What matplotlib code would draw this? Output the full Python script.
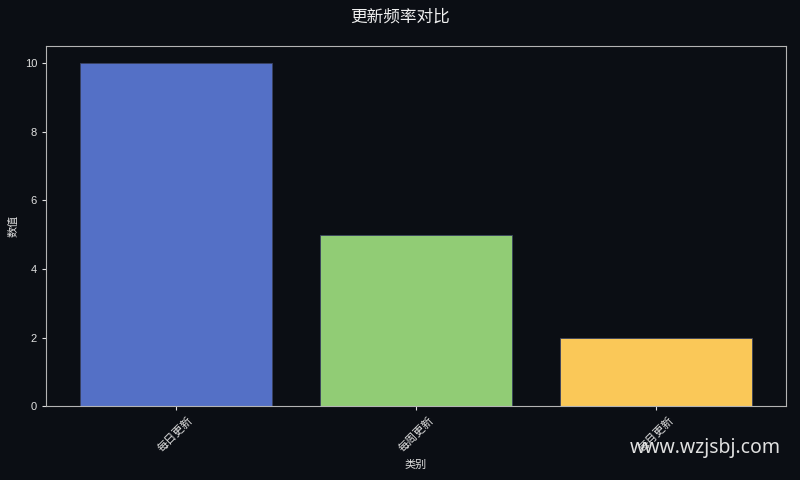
import matplotlib
matplotlib.use("Agg")
import matplotlib.pyplot as plt

plt.rcParams['font.family'] = ['Liberation Sans', 'Noto Sans CJK SC', 'DejaVu Sans']

categories = ["每日更新", "每周更新", "每月更新"]
values = [10, 5, 2]
colors = ["#5470c6", "#91cc75", "#fac858"]

bg = "#0b0e14"
fig = plt.figure(figsize=(8, 4.8), dpi=100, facecolor=bg)
ax = fig.add_axes([0.0575, 0.154, 0.925, 0.75])
ax.set_facecolor(bg)

ax.bar(categories, values, color=colors, width=0.8, edgecolor="#3a4260", linewidth=0.6)

for s in ax.spines.values():
    s.set_color("#b4b4b4")
ax.tick_params(colors="#e0e0e0", labelsize=8, length=3)
ax.tick_params(axis="x", labelrotation=45)
ax.set_xlabel("类别", color="#e0e0e0", fontsize=8)
ax.set_ylabel("数值", color="#e0e0e0", fontsize=8)
fig.suptitle("更新频率对比", color="#f0f0f0", fontsize=12, y=0.98)

fig.text(0.976, 0.067, "www.wzjsbj.com", color="#e0e0e0", fontsize=14,
         ha="right", va="center", family=["Noto Sans", "DejaVu Sans"])

fig.savefig("out.png", dpi=100, facecolor=bg)
